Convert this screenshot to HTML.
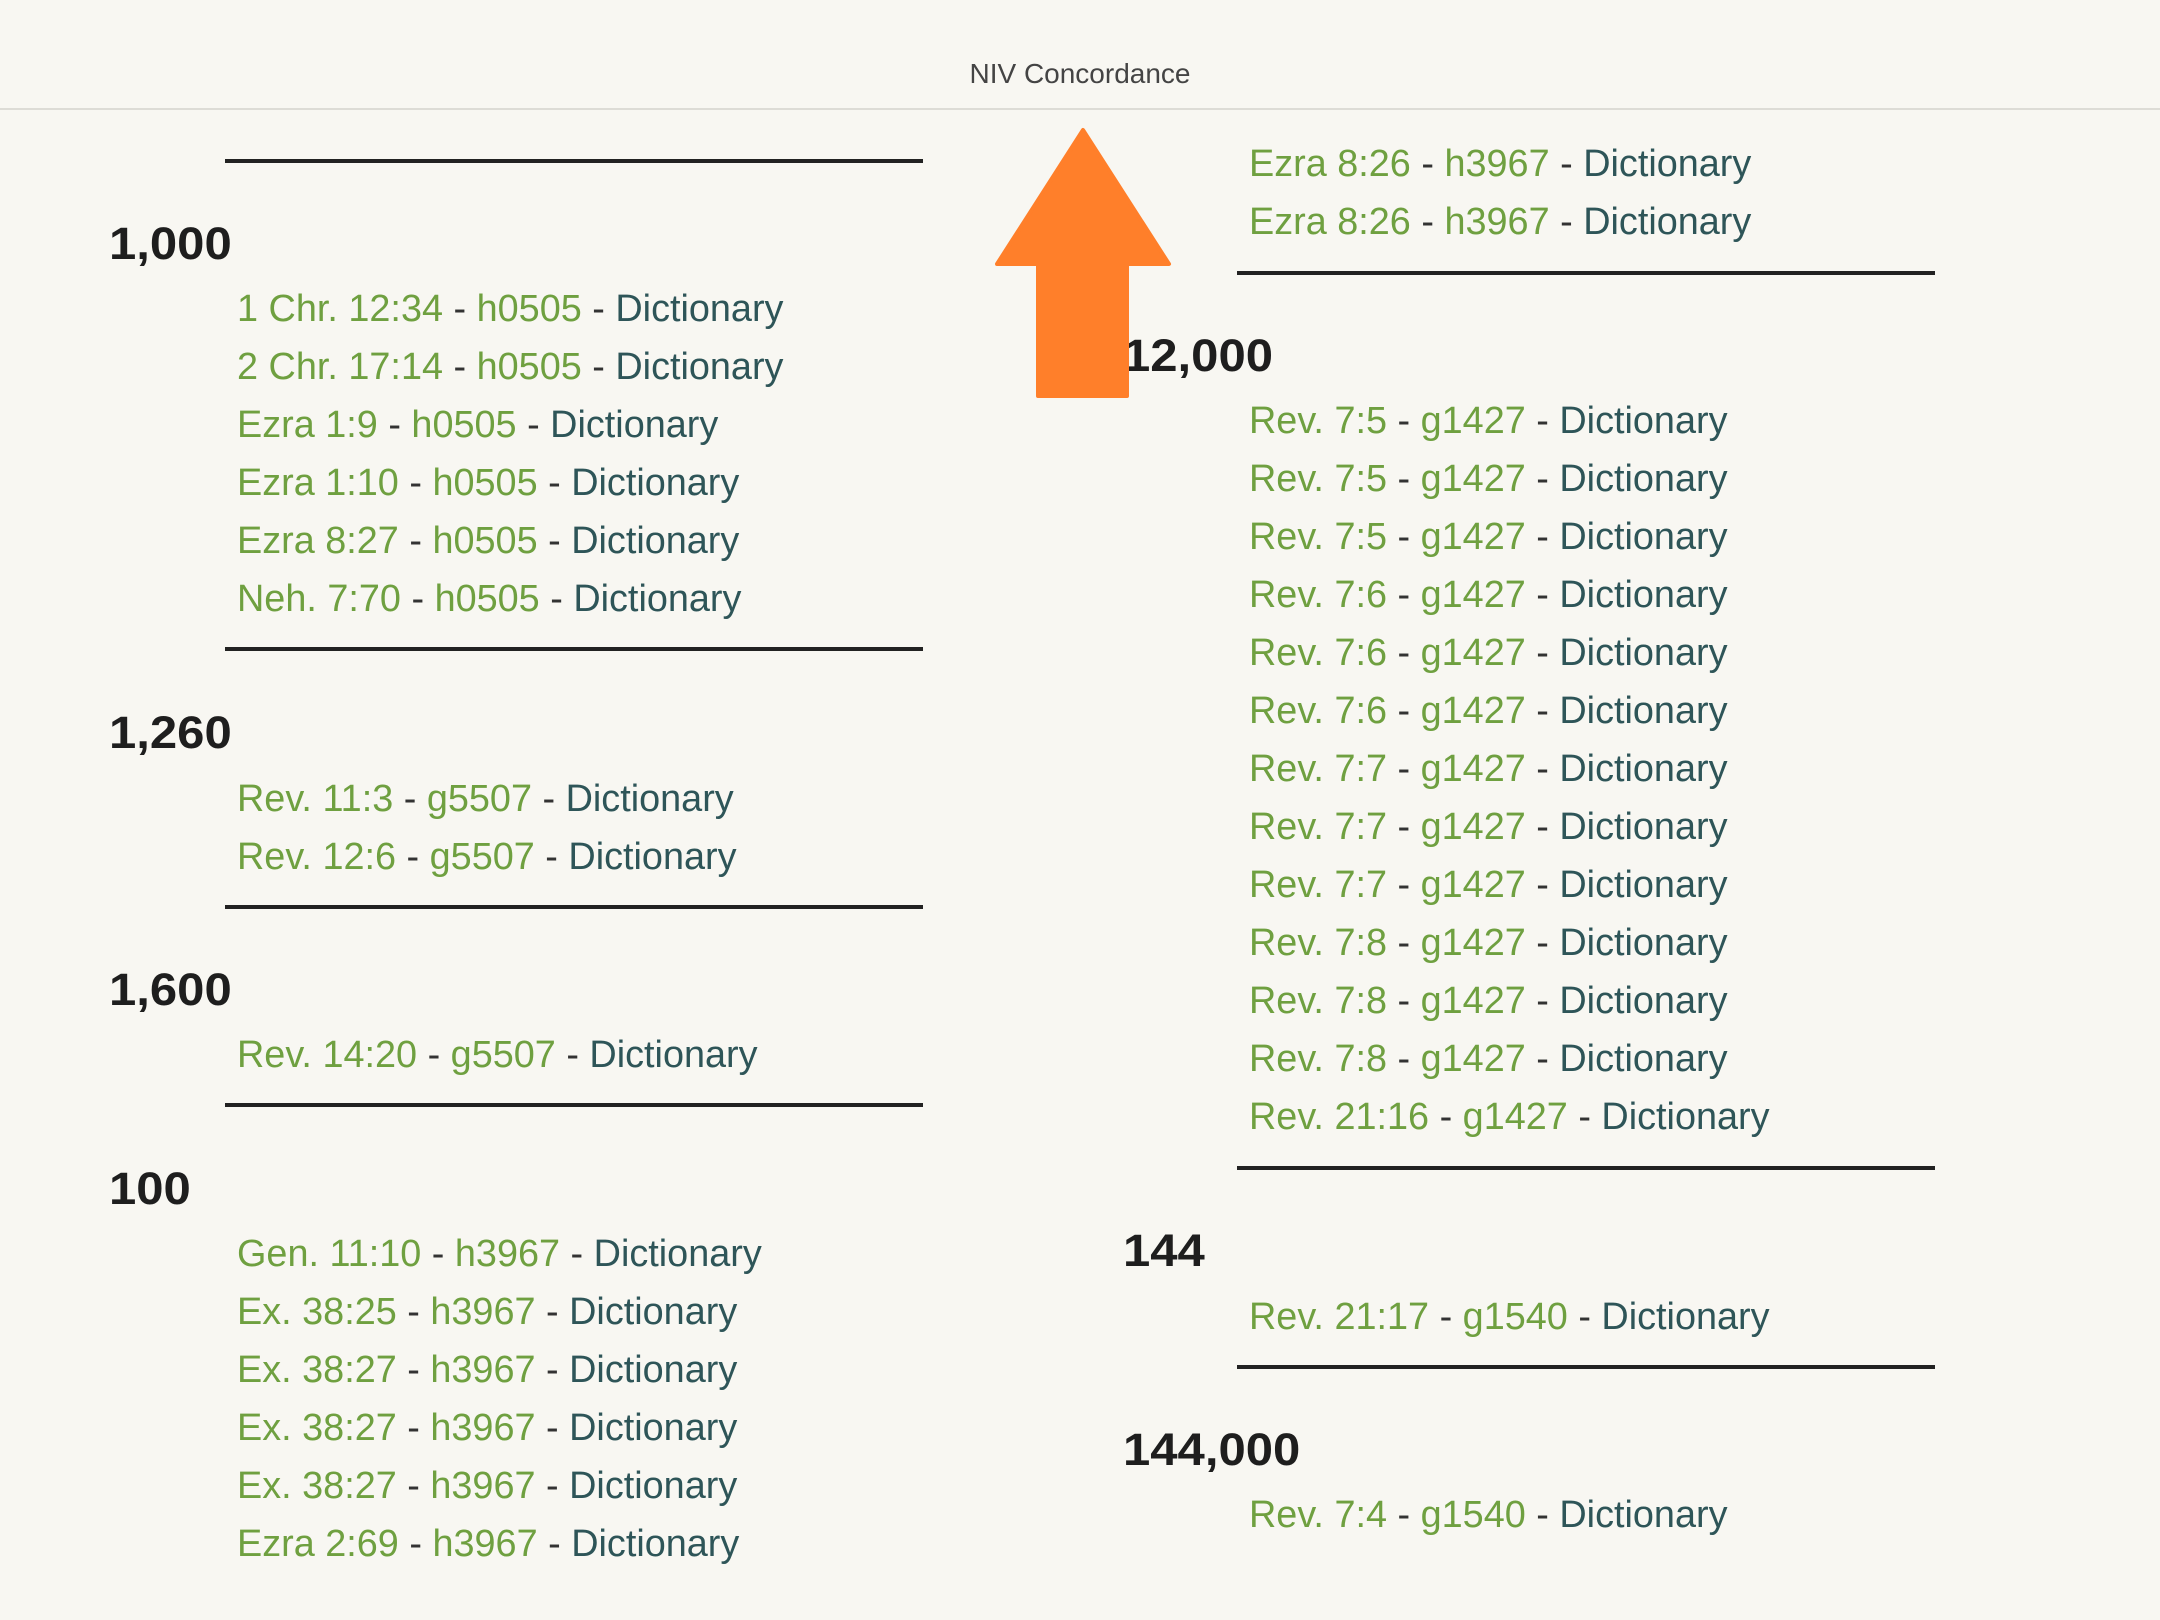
<!DOCTYPE html>
<html><head><meta charset="utf-8"><style>
body{margin:0;width:2160px;height:1620px;background:#f8f7f2;position:relative;overflow:hidden;font-family:"Liberation Sans",sans-serif}
.hd{position:absolute;left:0;top:0;width:2160px;height:108px;border-bottom:2px solid #dddcd6;background:#f8f7f2}
.hd span{position:absolute;left:0;width:2160px;top:58px;text-align:center;font-size:28px;color:#444}
.r{position:absolute;height:4px;background:#222;width:698px}
.h{position:absolute;font-size:45px;font-weight:bold;color:#1e1e1e;line-height:50px;transform:scaleX(1.09);transform-origin:left}
.e{position:absolute;font-size:38px;line-height:50px;color:#6fa040;white-space:nowrap;transform:scaleX(0.995);transform-origin:left}
.e b{font-weight:normal;color:#333}.e i{font-style:normal;color:#2e5558}
</style></head><body>
<div class="hd"><span>NIV Concordance</span></div>

<div class="r" style="left:225px;top:159px"></div>
<div class="h" style="left:109px;top:219px">1,000</div>
<div class="e" style="left:237px;top:284px">1 Chr. 12:34 <b>-</b> h0505 <b>-</b> <i>Dictionary</i></div>
<div class="e" style="left:237px;top:342px">2 Chr. 17:14 <b>-</b> h0505 <b>-</b> <i>Dictionary</i></div>
<div class="e" style="left:237px;top:400px">Ezra 1:9 <b>-</b> h0505 <b>-</b> <i>Dictionary</i></div>
<div class="e" style="left:237px;top:458px">Ezra 1:10 <b>-</b> h0505 <b>-</b> <i>Dictionary</i></div>
<div class="e" style="left:237px;top:516px">Ezra 8:27 <b>-</b> h0505 <b>-</b> <i>Dictionary</i></div>
<div class="e" style="left:237px;top:574px">Neh. 7:70 <b>-</b> h0505 <b>-</b> <i>Dictionary</i></div>
<div class="r" style="left:225px;top:647px"></div>
<div class="h" style="left:109px;top:708px">1,260</div>
<div class="e" style="left:237px;top:774px">Rev. 11:3 <b>-</b> g5507 <b>-</b> <i>Dictionary</i></div>
<div class="e" style="left:237px;top:832px">Rev. 12:6 <b>-</b> g5507 <b>-</b> <i>Dictionary</i></div>
<div class="r" style="left:225px;top:905px"></div>
<div class="h" style="left:109px;top:965px">1,600</div>
<div class="e" style="left:237px;top:1030px">Rev. 14:20 <b>-</b> g5507 <b>-</b> <i>Dictionary</i></div>
<div class="r" style="left:225px;top:1103px"></div>
<div class="h" style="left:109px;top:1164px">100</div>
<div class="e" style="left:237px;top:1229px">Gen. 11:10 <b>-</b> h3967 <b>-</b> <i>Dictionary</i></div>
<div class="e" style="left:237px;top:1287px">Ex. 38:25 <b>-</b> h3967 <b>-</b> <i>Dictionary</i></div>
<div class="e" style="left:237px;top:1345px">Ex. 38:27 <b>-</b> h3967 <b>-</b> <i>Dictionary</i></div>
<div class="e" style="left:237px;top:1403px">Ex. 38:27 <b>-</b> h3967 <b>-</b> <i>Dictionary</i></div>
<div class="e" style="left:237px;top:1461px">Ex. 38:27 <b>-</b> h3967 <b>-</b> <i>Dictionary</i></div>
<div class="e" style="left:237px;top:1519px">Ezra 2:69 <b>-</b> h3967 <b>-</b> <i>Dictionary</i></div>

<div class="e" style="left:1249px;top:139px">Ezra 8:26 <b>-</b> h3967 <b>-</b> <i>Dictionary</i></div>
<div class="e" style="left:1249px;top:197px">Ezra 8:26 <b>-</b> h3967 <b>-</b> <i>Dictionary</i></div>
<div class="r" style="left:1237px;top:271px"></div>
<div class="h" style="left:1123px;top:331px">12,000</div>
<div class="e" style="left:1249px;top:396px">Rev. 7:5 <b>-</b> g1427 <b>-</b> <i>Dictionary</i></div>
<div class="e" style="left:1249px;top:454px">Rev. 7:5 <b>-</b> g1427 <b>-</b> <i>Dictionary</i></div>
<div class="e" style="left:1249px;top:512px">Rev. 7:5 <b>-</b> g1427 <b>-</b> <i>Dictionary</i></div>
<div class="e" style="left:1249px;top:570px">Rev. 7:6 <b>-</b> g1427 <b>-</b> <i>Dictionary</i></div>
<div class="e" style="left:1249px;top:628px">Rev. 7:6 <b>-</b> g1427 <b>-</b> <i>Dictionary</i></div>
<div class="e" style="left:1249px;top:686px">Rev. 7:6 <b>-</b> g1427 <b>-</b> <i>Dictionary</i></div>
<div class="e" style="left:1249px;top:744px">Rev. 7:7 <b>-</b> g1427 <b>-</b> <i>Dictionary</i></div>
<div class="e" style="left:1249px;top:802px">Rev. 7:7 <b>-</b> g1427 <b>-</b> <i>Dictionary</i></div>
<div class="e" style="left:1249px;top:860px">Rev. 7:7 <b>-</b> g1427 <b>-</b> <i>Dictionary</i></div>
<div class="e" style="left:1249px;top:918px">Rev. 7:8 <b>-</b> g1427 <b>-</b> <i>Dictionary</i></div>
<div class="e" style="left:1249px;top:976px">Rev. 7:8 <b>-</b> g1427 <b>-</b> <i>Dictionary</i></div>
<div class="e" style="left:1249px;top:1034px">Rev. 7:8 <b>-</b> g1427 <b>-</b> <i>Dictionary</i></div>
<div class="e" style="left:1249px;top:1092px">Rev. 21:16 <b>-</b> g1427 <b>-</b> <i>Dictionary</i></div>
<div class="r" style="left:1237px;top:1166px"></div>
<div class="h" style="left:1123px;top:1226px">144</div>
<div class="e" style="left:1249px;top:1292px">Rev. 21:17 <b>-</b> g1540 <b>-</b> <i>Dictionary</i></div>
<div class="r" style="left:1237px;top:1365px"></div>
<div class="h" style="left:1123px;top:1425px">144,000</div>
<div class="e" style="left:1249px;top:1490px">Rev. 7:4 <b>-</b> g1540 <b>-</b> <i>Dictionary</i></div>

<svg style="position:absolute;left:0;top:0" width="2160" height="1620">
<polygon points="1083,130 1169,264 1127,264 1127,396 1038,396 1038,264 997,264" fill="#ff7f2a" stroke="#ff7f2a" stroke-width="4" stroke-linejoin="round"/>
</svg>
</body></html>
